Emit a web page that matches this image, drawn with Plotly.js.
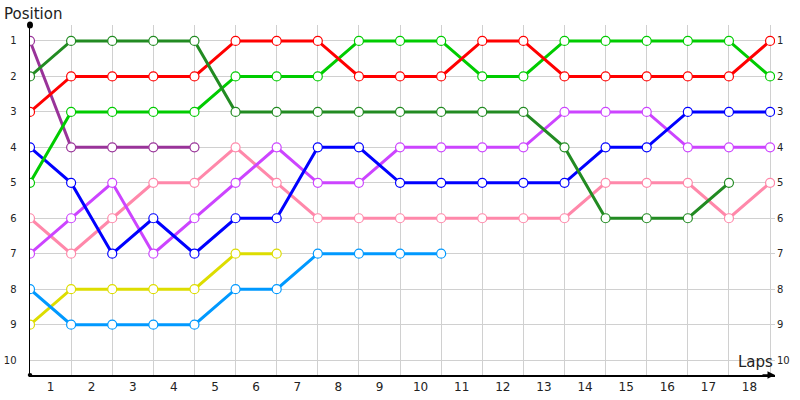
<!DOCTYPE html>
<html><head><meta charset="utf-8">
<script src="https://cdn.plot.ly/plotly-3.0.1.min.js"></script>
<style>body{margin:0;background:#fff}#c{width:800px;height:400px}</style>
</head><body><div id="c"></div><script>
const laps = [0,1,2,3,4,5,6,7,8,9,10,11,12,13,14,15,16,17,18];
const lapLabels = ['1','2','3','4','5','6','7','8','9','10','11','12','13','14','15','16','17','18'];
const positions = [1,2,3,4,5,6,7,8,9,10];

const darkGreen  = [2,1,1,1,1,3,3,3,3,3,3,3,3,4,6,6,6,5];
const red        = [3,2,2,2,2,1,1,1,2,2,2,1,1,2,2,2,2,2,1];
const green      = [5,3,3,3,3,2,2,2,1,1,1,2,2,1,1,1,1,1,2];
const purple     = [1,4,4,4,4];
const blue       = [4,5,7,6,7,6,6,4,4,5,5,5,5,5,4,4,3,3,3];
const violet     = [7,6,5,7,6,5,4,5,5,4,4,4,4,3,3,3,4,4,4];
const pink       = [6,7,6,5,5,4,5,6,6,6,6,6,6,6,5,5,5,6,5];
const yellow     = [9,8,8,8,8,7,7];
const lightBlue  = [8,9,9,9,9,8,8,7,7,7,7];

const series = [
  {v: yellow, c:'#dddd00'},
  {v: lightBlue, c:'#0099ff'},
  {v: pink, c:'#ff88aa'},
  {v: violet, c:'#cc44ff'},
  {v: blue, c:'#0000ff'},
  {v: purple, c:'#993399'},
  {v: green, c:'#00cc00'},
  {v: red, c:'#ff0000'},
  {v: darkGreen, c:'#228b22'}
];

const traces = series.map(s => ({
  type:'scatter', mode:'lines+markers',
  x: laps.slice(0, s.v.length), y: s.v,
  line:{color:s.c, width:3},
  marker:{size:9, color:'#ffffff', line:{color:s.c, width:1.2}},
  hoverinfo:'skip', showlegend:false
}));
traces.push({type:'scatter', x:[0], y:[1], yaxis:'y2', mode:'markers', marker:{opacity:0}, showlegend:false, hoverinfo:'skip'});

const yr = [10.42, 0.55];
const xr = [0, 18.12];
const halves = lapLabels.map((t,i)=> i+0.5);
const fnt = 'DejaVu Sans, Verdana, sans-serif';

const layout = {
  width:800, height:400,
  margin:{l:30, r:25, t:25, b:25},
  paper_bgcolor:'#fff', plot_bgcolor:'#fff',
  title:{text:'Position', x:4/800, xanchor:'left', y:1-14/400, yanchor:'middle',
         font:{family:fnt, size:15, color:'#222'}},
  xaxis:{range:xr, tickmode:'array', tickvals:halves, ticktext:lapLabels,
         showgrid:false, zeroline:false, showline:true, linecolor:'#000', linewidth:1.5,
         ticks:'', tickfont:{family:fnt, size:12, color:'#222'},
         minor:{tickmode:'array', tickvals:laps, showgrid:true, gridcolor:'#d0d0d0', gridwidth:1, ticks:''}},
  yaxis:{range:yr, tickmode:'array', tickvals:positions, ticktext:positions.map(String),
         showgrid:true, gridcolor:'#d0d0d0', zeroline:false, showline:true, linecolor:'#000', linewidth:1.5,
         ticks:'', ticklabelstandoff:10, tickfont:{family:fnt, size:10, color:'#222'}},
  yaxis2:{range:yr, overlaying:'y', side:'right', tickmode:'array', tickvals:positions, ticktext:positions.map(String),
         showgrid:false, zeroline:false, showline:false, ticks:'', ticklabelstandoff:1,
         tickfont:{family:fnt, size:10, color:'#222'}},
  shapes:[
    {type:'circle', xref:'paper', yref:'paper', x0:-0.004, x1:0.004, y0:0.99, y1:1.01, fillcolor:'#000', line:{width:0}},
    {type:'circle', xref:'paper', yref:'paper', x0:-0.003, x1:0.003, y0:-0.006, y1:0.006, fillcolor:'#000', line:{width:0}}
  ],
  annotations:[
    {xref:'x', yref:'y', x:18.12, y:10.42, ax:-14, ay:0, axref:'pixel', ayref:'pixel', showarrow:true,
     arrowhead:2, arrowsize:1, arrowwidth:1.5, arrowcolor:'#000', text:''},
    {xref:'x', yref:'y', x:18.12, y:10.42, xanchor:'right', yanchor:'bottom', yshift:2, showarrow:false,
     text:'Laps', font:{family:fnt, size:15, color:'#222'}}
  ]
};
Plotly.newPlot('c', traces, layout, {staticPlot:true, displayModeBar:false});
</script></body></html>
